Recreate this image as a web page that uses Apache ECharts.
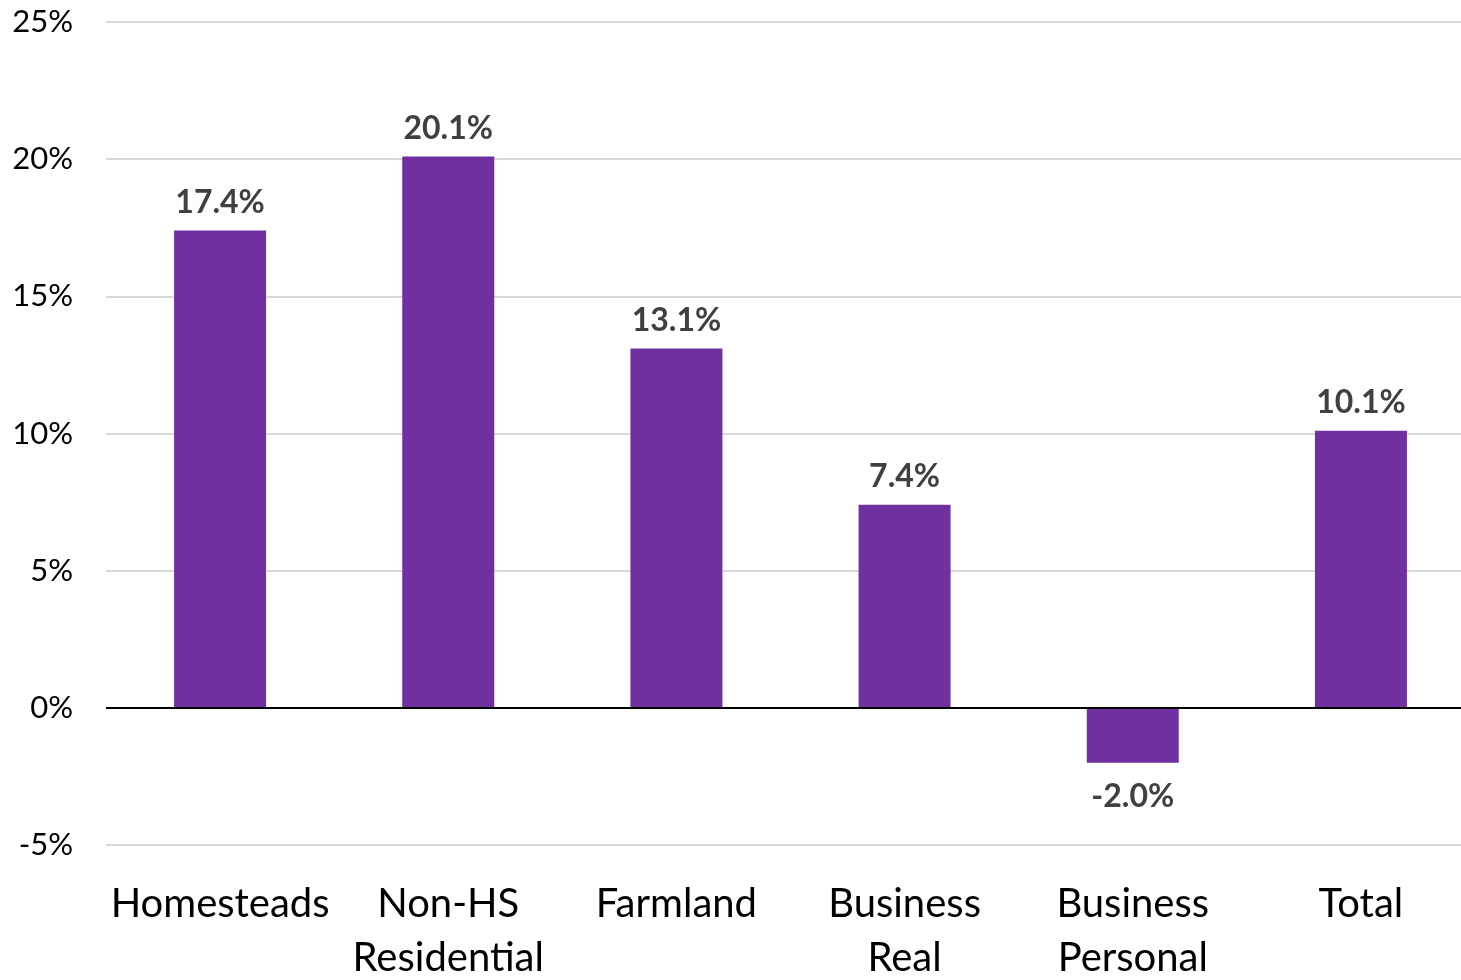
<!DOCTYPE html>
<html>
<head>
<meta charset="utf-8">
<script src="https://cdn.jsdelivr.net/npm/echarts@6/dist/echarts.min.js"></script>
<style>
  html, body { margin: 0; padding: 0; background: #fff; overflow: hidden; }
  #chart { width: 1461px; height: 980px; }
</style>
</head>
<body>
<div id="chart"></div>
<script>
// Percent change in value by property class
const categories = ['Homesteads', 'Non-HS\nResidential', 'Farmland', 'Business\nReal', 'Business\nPersonal', 'Total'];
const changePct = [17.4, 20.1, 13.1, 7.4, -2.0, 10.1];
const yTicks = { min: -5, max: 25, interval: 5 };

const FONT = 'Lato';
const BAR = '#7030A0';

const chart = echarts.init(document.getElementById('chart'), null, { renderer: 'canvas' });

chart.setOption({
  animation: false,
  backgroundColor: '#ffffff',
  grid: { left: 106, top: 22, width: 1369, bottom: 135, containLabel: false, outerBoundsMode: 'none' },
  xAxis: {
    type: 'category',
    data: categories,
    axisLine: { show: false, onZero: false },
    axisTick: { show: false },
    axisLabel: {
      margin: 32,
      color: '#000000',
      fontFamily: FONT,
      fontSize: 40,
      lineHeight: 54,
      interval: 0
    }
  },
  yAxis: {
    type: 'value',
    min: yTicks.min,
    max: yTicks.max,
    interval: yTicks.interval,
    axisLine: { show: false },
    axisTick: { show: false },
    splitLine: { lineStyle: { color: '#d9d9d9', width: 2 } },
    axisLabel: {
      margin: 33,
      color: '#000000',
      fontFamily: FONT,
      fontSize: 31,
      formatter: v => v + '%'
    }
  },
  series: [{
    type: 'bar',
    data: changePct.map(v => ({
      value: v,
      label: v < 0 ? { position: 'bottom', distance: 18 } : { position: 'top', distance: 12 }
    })),
    barWidth: 92,
    itemStyle: { color: BAR },
    label: {
      show: true,
      color: '#404040',
      fontFamily: FONT,
      fontWeight: 'bold',
      fontSize: 32,
      formatter: p => p.value.toFixed(1) + '%'
    },
    markLine: {
      silent: true,
      symbol: 'none',
      label: { show: false },
      lineStyle: { color: '#000000', width: 2, type: 'solid' },
      data: [{ yAxis: 0 }]
    }
  }]
});
</script>
</body>
</html>
